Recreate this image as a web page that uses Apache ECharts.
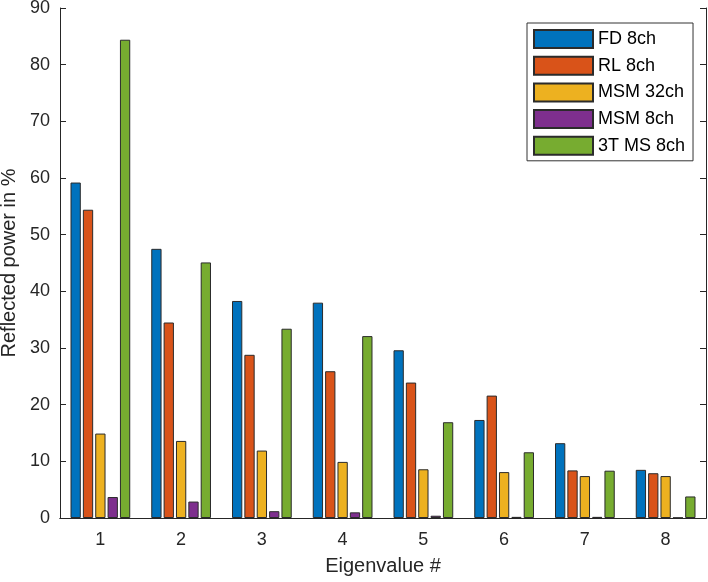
<!DOCTYPE html>
<html>
<head>
<meta charset="utf-8">
<script src="https://cdn.jsdelivr.net/npm/echarts@6/dist/echarts.min.js"></script>
<style>
  html, body { margin: 0; padding: 0; background: #fff; }
  #chart { width: 708px; height: 582px; }
</style>
</head>
<body>
<div id="chart"></div>
<script>
    // eigenvalue index on the x axis
    const categories = ['1', '2', '3', '4', '5', '6', '7', '8'];

    const seriesNames = ['FD 8ch', 'RL 8ch', 'MSM 32ch', 'MSM 8ch', '3T MS 8ch'];

    const fd8 = [59.2, 47.5, 38.3, 38.0, 29.6, 17.3, 13.2, 8.5];
    const rl8 = [54.4, 34.5, 28.8, 25.9, 23.9, 21.6, 8.4, 7.9];
    const msm32 = [14.9, 13.6, 11.9, 9.9, 8.6, 8.1, 7.4, 7.4];
    const msm8 = [3.7, 2.9, 1.2, 1.0, 0.4, 0.2, 0.2, 0.05];
    const ms3t = [84.4, 45.1, 33.4, 32.1, 16.9, 11.6, 8.35, 3.8];

    const yTicks = [0, 10, 20, 30, 40, 50, 60, 70, 80, 90];

    const colors = ['#0072BD', '#D95319', '#EDB120', '#7E2F8E', '#77AC30'];
    const axisColor = '#262626';
    const font = 'Liberation Sans, Arial, sans-serif';

    const chart = echarts.init(document.getElementById('chart'));

    const values = [fd8, rl8, msm32, msm8, ms3t];

    const option = {
        animation: false,
        color: colors,
        grid: {
            left: 60,
            top: 8,
            right: 2,
            bottom: 64,
            outerBoundsMode: 'none',
        },
        legend: {
            orient: 'vertical',
            left: 527,
            top: 23,
            itemWidth: 59,
            itemHeight: 18,
            itemGap: 6.7,
            icon: 'rect',
            padding: [6, 8, 5, 6],
            borderColor: '#333',
            borderWidth: 1,
            borderRadius: 0,
            backgroundColor: '#fff',
            textStyle: {
                fontFamily: font,
                fontSize: 18,
                color: '#000',
            },
            data: seriesNames,
        },
        xAxis: [
            {
                type: 'category',
                data: categories,
                position: 'bottom',
                boundaryGap: true,
                axisLine: { lineStyle: { color: axisColor, width: 1 } },
                axisTick: { inside: true, alignWithLabel: true, length: 6, lineStyle: { color: axisColor } },
                axisLabel: { fontFamily: font, fontSize: 18, color: axisColor, margin: 13 },
                name: 'Eigenvalue #',
                nameLocation: 'middle',
                nameGap: 38,
                nameTextStyle: { fontFamily: font, fontSize: 20, color: axisColor },
            },
            {
                type: 'category',
                data: categories,
                position: 'top',
                boundaryGap: true,
                axisLine: { lineStyle: { color: axisColor, width: 1 } },
                axisTick: { inside: true, alignWithLabel: true, length: 6, lineStyle: { color: axisColor } },
                axisLabel: { show: false },
            },
        ],
        yAxis: [
            {
                type: 'value',
                min: 0,
                max: 90,
                interval: 10,
                position: 'left',
                splitLine: { show: false },
                axisLine: { show: true, lineStyle: { color: axisColor, width: 1 } },
                axisTick: { show: true, inside: true, length: 6, lineStyle: { color: axisColor } },
                axisLabel: {
                    fontFamily: font,
                    fontSize: 18,
                    color: axisColor,
                    margin: 10,
                    formatter: v => yTicks.includes(v) ? String(v) : '',
                },
                name: 'Reflected power in %',
                nameLocation: 'middle',
                nameGap: 40,
                nameTextStyle: { fontFamily: font, fontSize: 20, color: axisColor },
            },
            {
                type: 'value',
                min: 0,
                max: 90,
                interval: 10,
                position: 'right',
                splitLine: { show: false },
                axisLine: { show: true, lineStyle: { color: axisColor, width: 1 } },
                axisTick: { show: true, inside: true, length: 6, lineStyle: { color: axisColor } },
                axisLabel: { show: false },
            },
        ],
        series: seriesNames.map((name, i) => ({
            name: name,
            type: 'bar',
            data: values[i],
            xAxisIndex: 0,
            yAxisIndex: 0,
            barWidth: 10.3,
            barGap: '20%',
            itemStyle: {
                color: colors[i],
                borderColor: '#2b2b2b',
                borderWidth: 1,
            },
        })),
    };

    option && chart.setOption(option);
</script>
</body>
</html>
